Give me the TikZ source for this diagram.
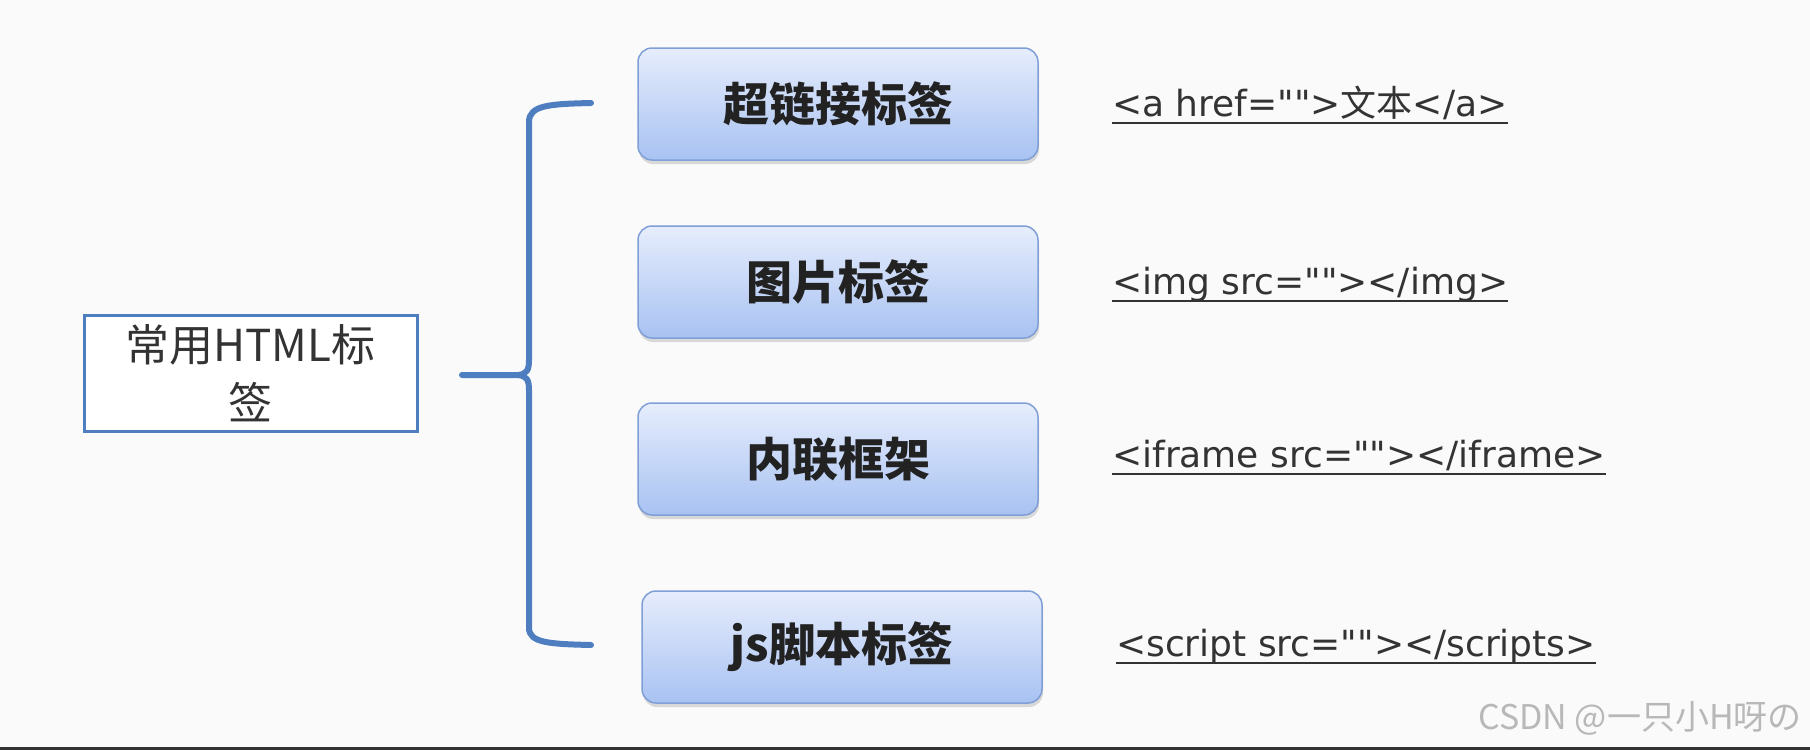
\documentclass[tikz,border=0pt]{standalone}
\usepackage{fontspec}
\newfontfamily\codefont{DejaVu Sans}
\newfontfamily\cjk{Noto Sans CJK SC}
\usetikzlibrary{shadows}
\definecolor{bg}{HTML}{FAFAFA}
\definecolor{bracecol}{HTML}{4F7EC0}
\definecolor{boxline}{HTML}{7F9FD6}
\definecolor{boxtop}{HTML}{E6EDFC}
\definecolor{boxbot}{HTML}{A8C2F2}
\definecolor{textdark}{HTML}{222222}
\definecolor{codetext}{HTML}{333333}
\definecolor{wmark}{HTML}{B8B8B8}
\begin{document}
\begin{tikzpicture}[x=1pt,y=-1pt,
  tagbox/.style={draw=boxline, line width=1.5pt, rounded corners=14pt,
    top color=boxtop, bottom color=boxbot,
    minimum width=400pt, minimum height=112pt, inner sep=0pt,
    drop shadow={opacity=0.28, shadow xshift=1pt, shadow yshift=-4pt},
    font=\cjk\bfseries\fontsize{46pt}{55pt}\selectfont, text=textdark},
  mainbox/.style={draw=bracecol, line width=3pt, fill=white,
    minimum width=333pt, minimum height=116pt, inner sep=0pt, align=center,
    font=\cjk\fontsize{44pt}{58pt}\selectfont, text=codetext},
  code/.style={anchor=base west, inner sep=0pt, text=codetext,
    font=\codefont\fontsize{36pt}{43pt}\selectfont},
  uline/.style={draw=codetext, line width=2.5pt},
  bracepath/.style={draw=bracecol, line width=6pt, line cap=round, line join=round}
]
\useasboundingbox (0,0) rectangle (1810,750);
\fill[bg] (0,0) rectangle (1810,750);
\fill[black!80] (0,747) rectangle (1810,750);

% left box
\node[mainbox] (main) at (250.5,373) {常用HTML标\\签};

% brace
\coordinate (btop) at (591,103);
\coordinate (bbot) at (591,645);
\coordinate (btip) at (462,375);
\draw[bracepath] (btop) .. controls (550,104) and (529,105) .. (529,122)
  -- (529,360) .. controls (529,370) and (527,374) .. (518,375) -- (btip);
\draw[bracepath] (518,375) .. controls (527,376) and (529,380) .. (529,390)
  -- (529,628) .. controls (529,643) and (550,644) .. (bbot);

% tag boxes
\node[tagbox] (t1) at (838,104) {超链接标签};
\node[tagbox] (t2) at (838,282) {图片标签};
\node[tagbox] (t3) at (838,459) {内联框架};
\node[tagbox] (t4) at (842,647) {js脚本标签};

% code texts
\node[code] (c1) at (1112,116) {<a href="">{\cjk 文本}</a>};
\node[code] (c2) at (1112,294) {<img src=""></img>};
\node[code] (c3) at (1112,467) {<iframe src=""></iframe>};
\node[code] (c4) at (1116,656) {<script src=""></scripts>};
\foreach \c in {c1,c2,c3,c4}
  \draw[uline] ([yshift=-7pt]\c.base west) -- ([yshift=-7pt]\c.base east);

% watermark
\node[anchor=east, inner sep=0pt, text=wmark, font=\cjk\fontsize{34pt}{40pt}\selectfont] (wm) at (1802,718) {CSDN @一只小H呀の};
\end{tikzpicture}
\end{document}
